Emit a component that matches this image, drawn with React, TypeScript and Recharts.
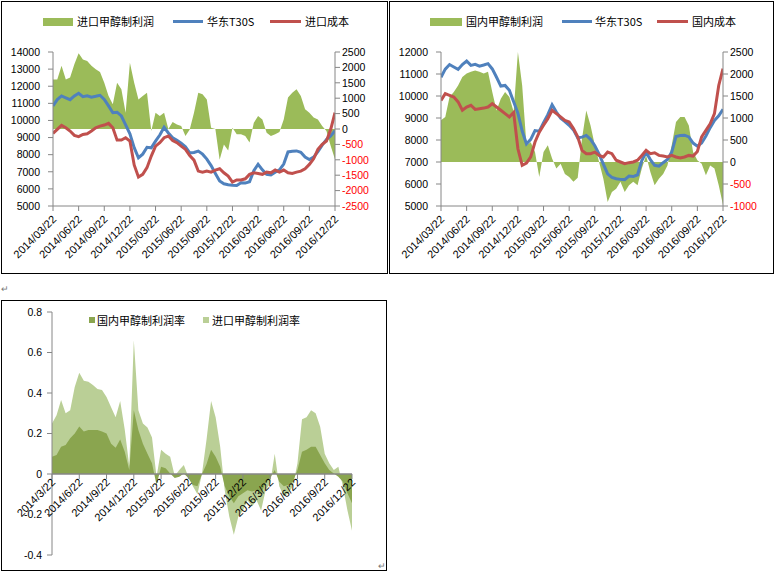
import React from "react";
import { ComposedChart, Area, Line, XAxis, YAxis, ReferenceLine } from "recharts";

// x = months since 2014/03/22, one sample every half month (67 samples)
const dateLabels = [
  "2014/03/22", "2014/06/22", "2014/09/22", "2014/12/22", "2015/03/22", "2015/06/22",
  "2015/09/22", "2015/12/22", "2016/03/22", "2016/06/22", "2016/09/22", "2016/12/22",
];
const dateLabelsShort = [
  "2014/3/22", "2014/6/22", "2014/9/22", "2014/12/22", "2015/3/22", "2015/6/22",
  "2015/9/22", "2015/12/22", "2016/3/22", "2016/6/22", "2016/9/22", "2016/12/22",
];

// 华东T30S (both top charts)
const t30s = [
  10850, 11220, 11430, 11320, 11210, 11430, 11590, 11390, 11440, 11360, 11410, 11470,
  11230, 10850, 10450, 10480, 10260, 9740, 9220, 8410, 7820, 8030, 8430, 8400,
  8790, 9150, 9600, 9270, 8990, 8840, 8670, 8460, 8100, 8130, 8210, 8030,
  7740, 7360, 6900, 6460, 6300, 6240, 6210, 6200, 6360, 6340, 6420, 7060,
  7440, 7110, 6850, 6810, 6970, 7110, 7450, 8160, 8200, 8220, 8140, 7860,
  7720, 7860, 8180, 8560, 8890, 9100, 9400,
];
// 进口成本
const importCost = [
  9240, 9480, 9710, 9570, 9380, 9130, 9050, 9180, 9220, 9380, 9570, 9670,
  9730, 9830, 9570, 8850, 8850, 8990, 8800, 7400, 6690, 6850, 7240, 7920,
  8500, 8700, 8990, 9090, 8830, 8700, 8500, 8310, 7950, 7680, 7040, 6980,
  7040, 6980, 7100, 7180, 6940, 6750, 6400, 6520, 6520, 6590, 6850, 6940,
  6900, 6850, 6980, 6940, 7100, 6980, 7100, 6940, 6900, 6980, 7040, 7180,
  7430, 7760, 8310, 8600, 8800, 9480, 10450,
];
// 进口甲醇制利润
const importProfit = [
  1610, 1610, 2050, 1610, 1670, 2100, 2460, 2260, 2210, 2050, 1940, 1850,
  1500, 1070, 800, 1500, 1290, 530, 2150, 1500, 960, 1070, 1180, -65,
  530, 420, 530, 0, 230, 150, 100, -230, -20, 530, 1180, 1130,
  960, 40, 0, -1000, -500, -700, 40, -170, -170, -230, -440, 200,
  420, 310, -120, -230, -170, -100, 310, 1020, 1180, 1290, 1070, 640,
  530, 370, 310, 100, -65, -550, -980,
];
// 国内成本
const domesticCost = [
  9800, 10110, 10030, 9950, 9730, 9350, 9500, 9580, 9390, 9420, 9450, 9500,
  9650, 9500, 9350, 9200, 9050, 9250, 7600, 6850, 6950, 7230, 7910, 8360,
  8670, 8970, 9350, 9200, 9050, 8890, 8820, 8520, 8140, 7530, 7380, 7380,
  7450, 7300, 7230, 7450, 7380, 7080, 7000, 6920, 6970, 7000, 7080, 7300,
  7530, 7380, 7420, 7300, 7270, 7230, 7300, 7230, 7180, 7230, 7300, 7270,
  7480, 8140, 8440, 8740, 9200, 10480, 11240,
];
// 国内甲醇制利润
const domesticProfit = [
  950, 1020, 1480, 1590, 1740, 1930, 2010, 2050, 2080, 2050, 2010, 2050,
  1590, 1170, 1440, 1590, 1480, 1140, 2500, 1740, 380, 450, 230, -340,
  230, 380, 80, -150, -40, -270, -340, -450, -360, 530, 1170, 830,
  380, 0, -380, -910, -680, -610, -450, -680, -530, -450, -530, -150,
  150, -230, -530, -380, -270, -80, 380, 910, 1020, 1020, 830, 230,
  40, -40, -300, -80, -150, -530, -980,
];
// 国内甲醇制利润率
const domesticMargin = [
  0.085, 0.094, 0.135, 0.143, 0.176, 0.2, 0.235, 0.21, 0.217, 0.217, 0.217, 0.21,
  0.2, 0.15, 0.13, 0.17, 0.11, 0.02, 0.315, 0.217, 0.15, 0.1, 0.053, -0.054,
  0.036, 0.028, 0.003, -0.02, -0.013, 0.003, -0.02, -0.054, -0.06, 0, 0.05, 0.12,
  0.085, 0.036, -0.06, -0.11, -0.145, -0.11, -0.095, -0.08, -0.087, -0.08, -0.095, -0.046,
  -0.02, 0.02, -0.038, -0.06, -0.054, -0.038, 0.02, 0.11, 0.12, 0.135, 0.135, 0.094,
  0.053, 0.02, 0.003, -0.013, -0.038, -0.095, -0.145,
];
// 进口甲醇制利润率
const importMargin = [
  0.25, 0.29, 0.365, 0.3, 0.315, 0.43, 0.5, 0.46, 0.455, 0.44, 0.42, 0.415,
  0.38, 0.33, 0.28, 0.36, 0.22, 0.04, 0.66, 0.315, 0.25, 0.23, 0.18, -0.013,
  0.12, 0.1, 0.085, -0.01, 0.02, 0.045, -0.015, -0.06, -0.1, 0.003, 0.17, 0.36,
  0.28, 0.135, -0.08, -0.21, -0.3, -0.21, -0.18, -0.13, -0.16, -0.13, -0.18, -0.08,
  -0.046, 0.1, -0.06, -0.11, -0.095, -0.06, 0.053, 0.27, 0.28, 0.315, 0.3, 0.233,
  0.1, 0.053, 0.02, 0.036, -0.06, -0.18, -0.28,
];

const leftTicks1 = [5000, 6000, 7000, 8000, 9000, 10000, 11000, 12000, 13000, 14000];
const rightTicks1 = [-2500, -2000, -1500, -1000, -500, 0, 500, 1000, 1500, 2000, 2500];
const leftTicks2 = [5000, 6000, 7000, 8000, 9000, 10000, 11000, 12000];
const rightTicks2 = [-1000, -500, 0, 500, 1000, 1500, 2000, 2500];
const marginTicks = [-0.4, -0.2, 0, 0.2, 0.4, 0.6, 0.8];

const FONT = '"Liberation Sans", Arial, sans-serif';
const CJK = '"Noto Sans CJK SC", "Liberation Sans", sans-serif';
const AXIS = "#868686";
const BLUE = "#4F81BD";
const RED = "#C0504D";
const GREEN = "#9BBB59";
const DARK_GREEN = "#8AA54F";
const LIGHT_GREEN = "#BACF96";

const STEP = 0.5;
const PLOT_W = 282; // width of the top two plot areas
const monthTicks = dateLabels.map((_, i) => i * 3);

const importData = t30s.map((v, i) => ({ m: i * STEP, t30s: v, cost: importCost[i], profit: importProfit[i] }));
const domesticData = t30s.map((v, i) => ({ m: i * STEP, t30s: v, cost: domesticCost[i], profit: domesticProfit[i] }));
const marginData = domesticMargin.map((v, i) => ({ m: i * STEP, domestic: v, imported: importMargin[i] }));

// chart 3 geometry: x axis labels sit on the zero line
const C3_H = 276;
const C3_TOP = 14;
const C3_XH = 19;
const Y3_MIN = -0.4;
const Y3_MAX = 0.8;
const ZERO_SHIFT = ((C3_H - C3_TOP - C3_XH) * (0 - Y3_MIN)) / (Y3_MAX - Y3_MIN);

function DateTick(props: any) {
  const { x, y, payload, labels, shift = 0, mark = false } = props;
  const label = labels[Math.round(payload.value / 3)];
  const base = y - shift;
  const ax = x + 4;
  const ay = base + 9;
  return (
    <g>
      {mark && <line x1={x} x2={x} y1={base} y2={base + 5} stroke={AXIS} />}
      <text x={ax} y={ay} transform={`rotate(-45 ${ax} ${ay})`} textAnchor="end" fontSize={11} fontFamily={FONT} fill="#000">
        {label}
      </text>
    </g>
  );
}

function ValueTick(props: any) {
  const { x, y, payload, textAnchor, redNegative } = props;
  const v = payload.value;
  return (
    <text x={x} y={y} dy="0.355em" textAnchor={textAnchor} fontSize={10.5} fontFamily={FONT} fill={redNegative && v < 0 ? "#FF0000" : "#000"}>
      {String(v)}
    </text>
  );
}

function Swatch({ x, y, w, h, color }: { x: number; y: number; w: number; h: number; color: string }) {
  return <div style={{ position: "absolute", left: x, top: y, width: w, height: h, background: color }} />;
}

function Label({ x, y, text }: { x: number; y: number; text: string }) {
  return (
    <div style={{ position: "absolute", left: x, top: y - 8, height: 16, lineHeight: "16px", fontSize: 11, fontFamily: CJK, color: "#000", whiteSpace: "nowrap" }}>
      {text}
    </div>
  );
}

function PriceChart({ data, left, width, plotLeft, leftTicks, rightTicks }: any) {
  const rightW = width - plotLeft - PLOT_W;
  return (
    <div style={{ position: "absolute", left, top: 0 }}>
      <ComposedChart width={width} height={275} data={data} margin={{ top: 52, right: 0, bottom: 0, left: 0 }}>
        <XAxis
          dataKey="m"
          type="number"
          domain={[0, 33]}
          ticks={monthTicks}
          interval={0}
          height={69}
          tickSize={5}
          tickMargin={0}
          stroke={AXIS}
          allowDataOverflow
          tick={(p: any) => <DateTick {...p} labels={dateLabels} />}
        />
        <YAxis
          yAxisId="left"
          domain={[leftTicks[0], leftTicks[leftTicks.length - 1]]}
          ticks={leftTicks}
          interval={0}
          width={plotLeft}
          tickSize={5}
          tickMargin={8}
          stroke={AXIS}
          allowDataOverflow
          tick={(p: any) => <ValueTick {...p} />}
        />
        <YAxis
          yAxisId="right"
          orientation="right"
          domain={[rightTicks[0], rightTicks[rightTicks.length - 1]]}
          ticks={rightTicks}
          interval={0}
          width={rightW}
          tickSize={5}
          tickMargin={2}
          stroke={AXIS}
          allowDataOverflow
          tick={(p: any) => <ValueTick {...p} redNegative />}
        />
        <Area yAxisId="right" type="linear" dataKey="profit" fill={GREEN} fillOpacity={1} stroke="none" baseValue={0} isAnimationActive={false} />
        <Line yAxisId="left" type="linear" dataKey="t30s" stroke={BLUE} strokeWidth={3} dot={false} isAnimationActive={false} />
        <Line yAxisId="left" type="linear" dataKey="cost" stroke={RED} strokeWidth={3} dot={false} isAnimationActive={false} />
      </ComposedChart>
    </div>
  );
}

export default function App() {
  return (
    <div style={{ position: "absolute", left: 0, top: 0, width: 774, height: 574, background: "#fff", overflow: "hidden" }}>
      {/* panel frames */}
      <div style={{ position: "absolute", left: 1, top: 1, width: 385, height: 271, border: "1px solid #000" }} />
      <div style={{ position: "absolute", left: 389, top: 1, width: 383, height: 271, border: "1px solid #000" }} />
      <div style={{ position: "absolute", left: 1, top: 300, width: 384, height: 269, border: "1px solid #000" }} />

      {/* chart 1: import */}
      <PriceChart data={importData} left={0} width={390} plotLeft={53} leftTicks={leftTicks1} rightTicks={rightTicks1} />
      <Swatch x={43} y={18} w={30} h={8} color={GREEN} />
      <Label x={77} y={21} text="进口甲醇制利润" />
      <Swatch x={173} y={20} w={30} h={3} color={BLUE} />
      <Label x={207} y={21} text="华东T30S" />
      <Swatch x={270} y={20} w={31} h={3} color={RED} />
      <Label x={305} y={21} text="进口成本" />

      {/* chart 2: domestic */}
      <PriceChart data={domesticData} left={389} width={385} plotLeft={52} leftTicks={leftTicks2} rightTicks={rightTicks2} />
      <Swatch x={430} y={18} w={32} h={8} color={GREEN} />
      <Label x={466} y={21} text="国内甲醇制利润" />
      <Swatch x={562} y={20} w={30} h={3} color={BLUE} />
      <Label x={595} y={21} text="华东T30S" />
      <Swatch x={657} y={20} w={31} h={3} color={RED} />
      <Label x={692} y={21} text="国内成本" />

      {/* chart 3: margins */}
      <div style={{ position: "absolute", left: 0, top: 298 }}>
        <ComposedChart width={390} height={C3_H} data={marginData} margin={{ top: C3_TOP, right: 38, bottom: 0, left: 0 }}>
          <YAxis
            domain={[Y3_MIN, Y3_MAX]}
            ticks={marginTicks}
            interval={0}
            width={52}
            tickSize={5}
            tickMargin={5}
            stroke={AXIS}
            allowDataOverflow
            tick={(p: any) => <ValueTick {...p} />}
          />
          <Area type="linear" dataKey="imported" fill={LIGHT_GREEN} fillOpacity={1} stroke="none" baseValue={0} isAnimationActive={false} />
          <Area type="linear" dataKey="domestic" fill={DARK_GREEN} fillOpacity={1} stroke="none" baseValue={0} isAnimationActive={false} />
          <ReferenceLine y={0} stroke={AXIS} strokeWidth={1.5} />
          <XAxis
            dataKey="m"
            type="number"
            domain={[0, 33]}
            ticks={monthTicks}
            interval={0}
            height={C3_XH}
            tickSize={0}
            tickMargin={0}
            axisLine={false}
            tickLine={false}
            allowDataOverflow
            tick={(p: any) => <DateTick {...p} labels={dateLabelsShort} shift={ZERO_SHIFT} mark />}
          />
        </ComposedChart>
      </div>
      <Swatch x={89} y={317} w={6} h={6} color={DARK_GREEN} />
      <Label x={97} y={320} text="国内甲醇制利润率" />
      <Swatch x={203} y={317} w={6} h={6} color={LIGHT_GREEN} />
      <Label x={212} y={320} text="进口甲醇制利润率" />

      {/* paragraph marks */}
      <div style={{ position: "absolute", left: 1, top: 283, fontSize: 9, lineHeight: "12px", color: "#777", fontFamily: CJK }}>↵</div>
      <div style={{ position: "absolute", left: 378, top: 560, fontSize: 9, lineHeight: "12px", color: "#777", fontFamily: CJK }}>↵</div>
    </div>
  );
}
